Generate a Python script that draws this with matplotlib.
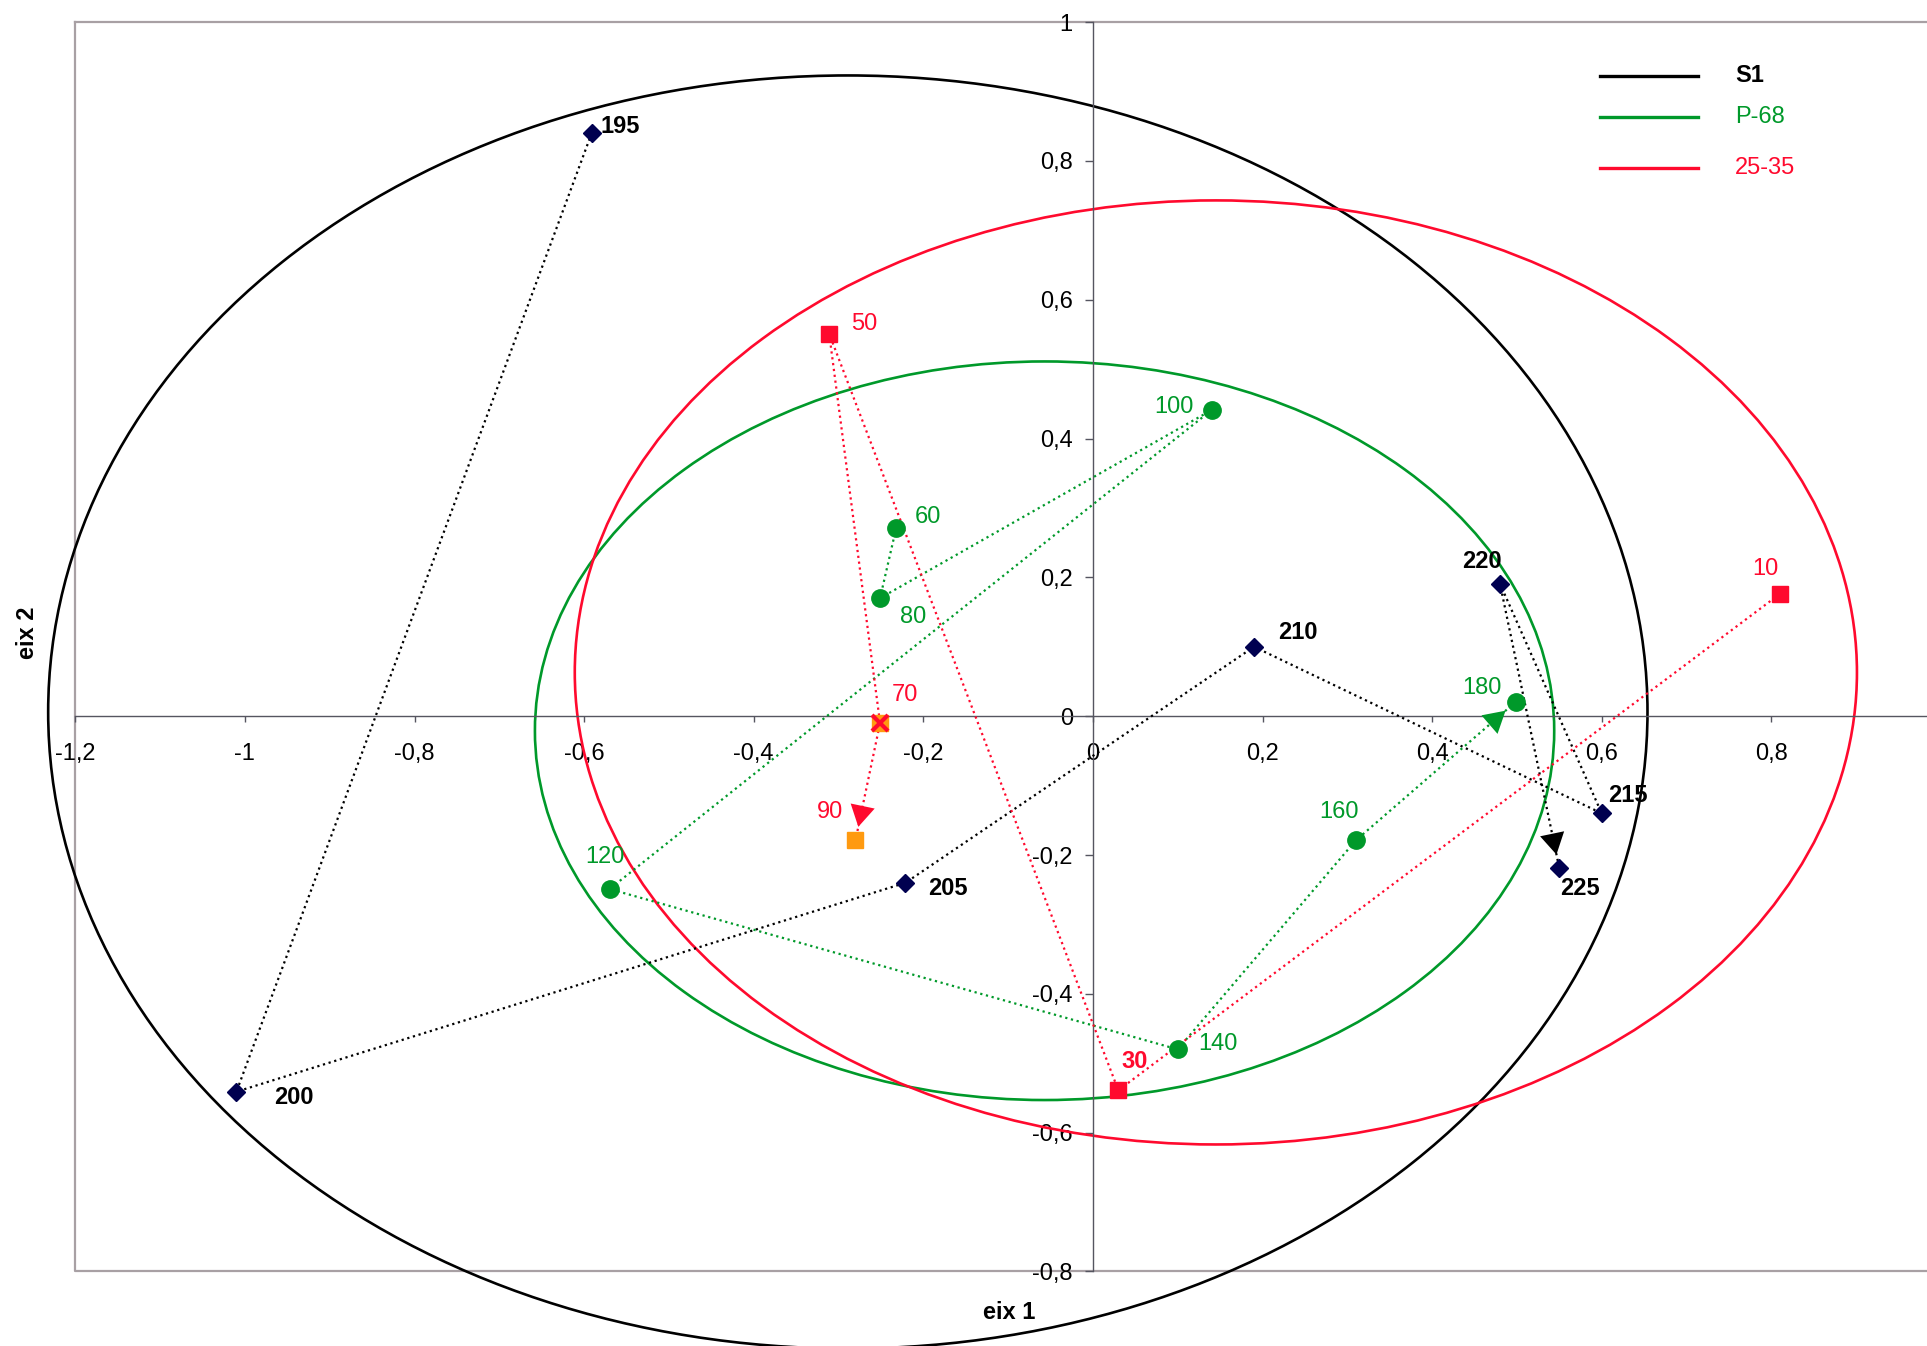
import matplotlib
matplotlib.use("Agg")
import matplotlib.pyplot as plt
from matplotlib.patches import Ellipse

plt.rcParams['font.family'] = ['Liberation Sans', 'DejaVu Sans']

# ---- data ----
s1_labels = ['195', '200', '205', '210', '215', '220', '225']
s1_x = [-0.591, -1.010, -0.221, 0.190, 0.600, 0.480, 0.550]
s1_y = [0.840, -0.541, -0.240, 0.100, -0.140, 0.191, -0.219]

p68_labels = ['60', '80', '100', '120', '140', '160', '180']
p68_x = [-0.232, -0.251, 0.140, -0.570, 0.100, 0.310, 0.499]
p68_y = [0.271, 0.170, 0.441, -0.249, -0.480, -0.179, 0.021]

r_labels = ['10', '30', '50', '70', '90']
r_x = [0.810, 0.030, -0.311, -0.251, -0.280]
r_y = [0.176, -0.539, 0.551, -0.010, -0.179]

# ellipses: centre x, centre y, width, height
ell_names = ['S1', 'P-68', '25-35']
ell_cx = [-0.289, -0.057, 0.145]
ell_cy = [0.006, -0.021, 0.063]
ell_w = [1.886, 1.202, 1.512]
ell_h = [1.834, 1.064, 1.360]

xticks = [-1.2, -1.0, -0.8, -0.6, -0.4, -0.2, 0.0, 0.2, 0.4, 0.6, 0.8]
yticks = [-0.8, -0.6, -0.4, -0.2, 0.0, 0.2, 0.4, 0.6, 0.8, 1.0]

# ---- styles ----
BLACK = '#000000'
NAVY = '#000050'
GREEN = '#00992a'
RED = '#ff0a2e'
ORANGE = '#ff9a10'
ell_colors = [BLACK, GREEN, RED]

s1_off = [(9, 7, 'left'), (38, -6, 'left'), (23, -6, 'left'), (24, 14, 'left'),
          (6, 18, 'left'), (2, 22, 'right'), (1, -20, 'left')]
p68_off = [(19, 11, 'left'), (20, -19, 'left'), (-18, 3, 'right'), (-5, 32, 'center'),
           (21, 5, 'left'), (-17, 28, 'center'), (-14, 14, 'right')]
r_off = [(-14, 25, 'center'), (3, 29, 'left'), (22, 10, 'left'), (12, 28, 'left'),
         (-12, 28, 'right')]

FS = 17
W, H = 1927, 1346

fig = plt.figure(figsize=(W / 100, H / 100), dpi=100)
ax = fig.add_axes([0.03908, 0.05535, 0.96092, 0.9283])
ax.set_xlim(-1.2, 0.98361)
ax.set_ylim(-0.8, 1.0)

# frame (top, left, bottom)
frame_c = '#a8a0a4'
ax.plot([0, 0, 1], [1, 0, 0], transform=ax.transAxes, color=frame_c, lw=1.6,
        clip_on=False, zorder=1)
ax.plot([0, 1], [1, 1], transform=ax.transAxes, color=frame_c, lw=1.6,
        clip_on=False, zorder=1)

for s in ['top', 'right']:
    ax.spines[s].set_visible(False)
ax.spines['left'].set_position(('data', 0))
ax.spines['bottom'].set_position(('data', 0))
for s in ['left', 'bottom']:
    ax.spines[s].set_color('#555560')
    ax.spines[s].set_linewidth(1.0)

ax.set_xticks(xticks)
ax.set_yticks(yticks)
fmt = lambda v: ('%g' % round(v, 1)).replace('.', ',')
ax.set_xticklabels([fmt(v) for v in xticks])
ax.set_yticklabels([fmt(v) for v in yticks])
ax.tick_params(axis='x', direction='out', length=4.5, width=1, color='#555560',
               labelsize=FS, pad=15)
ax.tick_params(axis='y', direction='out', length=5.5, width=1, color='#555560',
               labelsize=FS, pad=9)

# ellipses
for cx, cy, w, h, c in zip(ell_cx, ell_cy, ell_w, ell_h, ell_colors):
    e = Ellipse((cx, cy), w, h, fill=False, edgecolor=c, lw=1.9, clip_on=False, zorder=2)
    ax.add_patch(e)

# trajectories
ax.plot(s1_x, s1_y, linestyle=':', color=BLACK, lw=1.6, zorder=3)
ax.plot(p68_x, p68_y, linestyle=':', color=GREEN, lw=1.6, zorder=3)
ax.plot(r_x, r_y, linestyle=':', color=RED, lw=1.6, zorder=3)

# arrow heads at the end of each trajectory
for xs, ys, c in [(s1_x, s1_y, BLACK), (p68_x, p68_y, GREEN), (r_x, r_y, RED)]:
    ax.annotate('', xy=(xs[-1], ys[-1]), xytext=(xs[-2], ys[-2]),
                arrowprops=dict(arrowstyle='-|>,head_length=0.45,head_width=0.26',
                                color=c, lw=0, mutation_scale=34,
                                shrinkA=0, shrinkB=10), zorder=4)

# markers
ax.plot(s1_x, s1_y, linestyle='none', marker='D', ms=9.5, color=NAVY, zorder=5)
ax.plot(p68_x, p68_y, linestyle='none', marker='o', ms=12.5, color=GREEN, zorder=5)
ax.plot(r_x[:3], r_y[:3], linestyle='none', marker='s', ms=12, color=RED, zorder=5)
ax.plot(r_x[3:], r_y[3:], linestyle='none', marker='s', ms=12, color=ORANGE, zorder=5)
ax.plot(r_x[3:4], r_y[3:4], linestyle='none', marker='x', ms=11, mew=3, color=RED, zorder=6)

# point labels
for lab, x, y, (dx, dy, ha) in zip(s1_labels, s1_x, s1_y, s1_off):
    ax.annotate(lab, (x, y), xytext=(dx, dy), textcoords='offset pixels', ha=ha,
                va='center', fontsize=FS, fontweight='bold', color=BLACK, zorder=7)
for lab, x, y, (dx, dy, ha) in zip(p68_labels, p68_x, p68_y, p68_off):
    ax.annotate(lab, (x, y), xytext=(dx, dy), textcoords='offset pixels', ha=ha,
                va='center', fontsize=FS, color=GREEN, zorder=7)
for lab, x, y, (dx, dy, ha) in zip(r_labels, r_x, r_y, r_off):
    ax.annotate(lab, (x, y), xytext=(dx, dy), textcoords='offset pixels', ha=ha,
                va='center', fontsize=FS, color=RED, zorder=7,
                fontweight='bold' if lab == '30' else 'normal')

# legend (drawn by hand to keep the uneven row spacing of the original)
leg_rows_px = [75.7, 117.3, 168.3]
for name, c, ypx in zip(ell_names, ell_colors, leg_rows_px):
    yf = 1 - ypx / H
    fig.add_artist(plt.Line2D([1600 / W, 1698 / W], [yf, yf], color=c, lw=2.4))
    fig.text(1735 / W, yf, name, color=c, fontsize=FS, va='center', ha='left',
             fontweight='bold' if name == 'S1' else 'normal')

# axis titles
fig.text(1009 / W, 1 - 1312.5 / H, 'eix 1', ha='center', va='center',
         fontsize=FS, fontweight='bold')
fig.text(27 / W, 1 - 633 / H, 'eix 2', ha='center', va='center',
         fontsize=FS, fontweight='bold', rotation=90)

fig.savefig('out.png', dpi=100)
